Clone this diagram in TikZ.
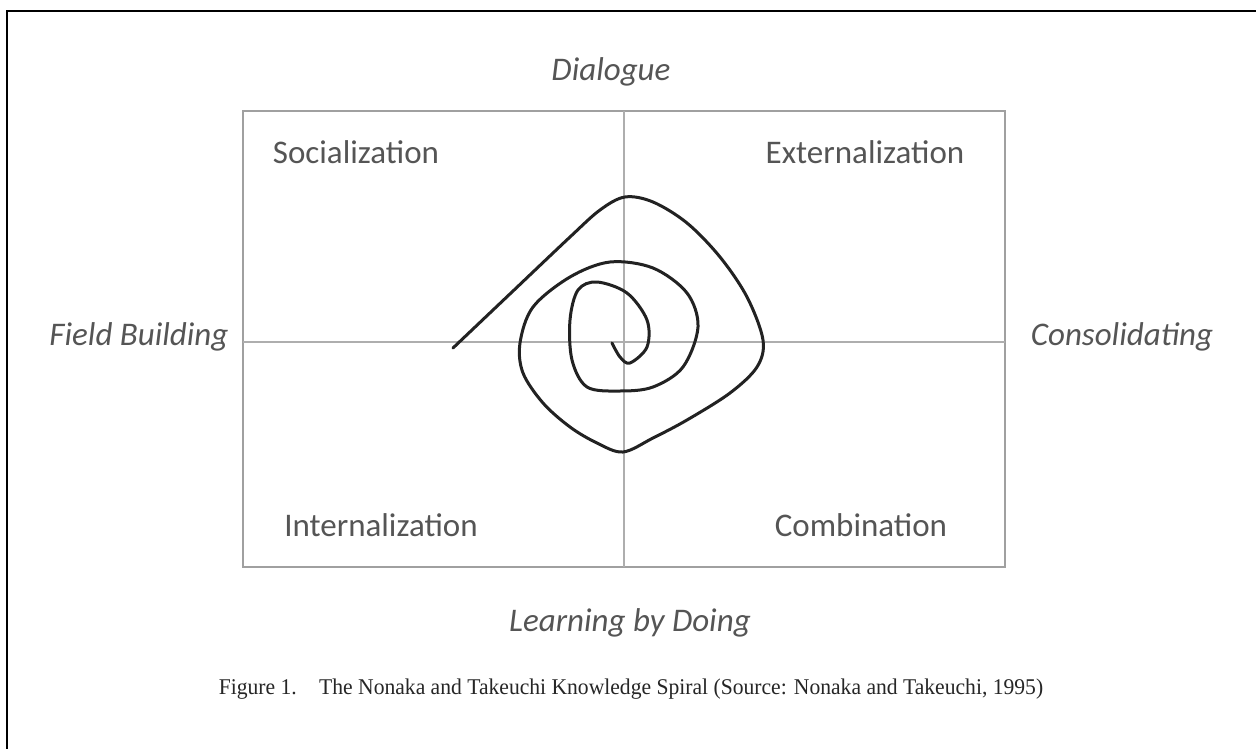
\documentclass[tikz,border=0pt]{standalone}
\usepackage{fontspec}
\setmainfont{Liberation Serif}
\newfontfamily\calib{Carlito}
\definecolor{boxgray}{HTML}{A0A0A0}
\definecolor{labgray}{HTML}{555555}
\definecolor{spir}{HTML}{222222}
\tikzset{
  quad/.style={font=\calib\fontsize{33}{40}\selectfont, text=labgray, inner sep=0pt},
  side/.style={font=\calib\itshape\fontsize{33}{39}\selectfont, text=labgray, inner sep=0pt},
  captext/.style={font=\fontsize{22.5}{27}\selectfont, text=black!85, inner sep=0pt},
  gridline/.style={draw=boxgray, line width=2pt},
  crossline/.style={draw=boxgray!85, line width=1.6pt},
}
\begin{document}
\begin{tikzpicture}[x=1pt,y=-1pt]
\useasboundingbox (0,0) rectangle (1256,749);
\fill[white] (0,0) rectangle (1256,749);
% outer frame (top and left only)
\draw[line width=2.5pt, black] (7,749) -- (7,11) -- (1256,11);
% quadrant box
\draw[gridline] (243,111) rectangle (1005,567);
\draw[crossline] (624,111) -- (624,567);
\draw[crossline] (243,342) -- (1005,342);
% labels
\node[side] (dia) at (611,72) {Dialogue};
\node[quad] (soc) at (356,152) {Socialization};
\node[quad] (ext) at (865,152) {Externalization};
\node[side] (fb) at (139,337) {Field Building};
\node[side] (con) at (1122,337) {Consolidating};
\node[quad] (int) at (381,525) {Internalization};
\node[quad] (com) at (861,525) {Combination};
\node[side] (lbd) at (630,623) {Learning by Doing};
\node[captext] (caption) at (631,689) {\scalebox{0.96}[1]{Figure 1.\hspace{0.7em} The Nonaka and Takeuchi Knowledge Spiral (Source: Nonaka and Takeuchi, 1995)}};
% spiral
\draw[spir, line width=3pt, line cap=round, line join=round]
  plot[smooth, tension=0.55] coordinates {
  (453,348) (512,292) (570,237) (600,210) (625,197) (653,202) (687,223)
  (720,257) (747,297) (763,340) (757,367) (730,393) (687,420) (653,438)
  (623,452) (597,443) (570,427) (543,403) (523,373) (520,343)
  (533,307) (570,277) (610,262) (653,268) (687,293) (698,327) (683,367)
  (653,387) (620,391) (587,387) (572,360) (570,320) (578,290) (597,282)
  (627,293) (647,320) (647,347) (630,363) (620,357) (612,343)};
\end{tikzpicture}
\end{document}
